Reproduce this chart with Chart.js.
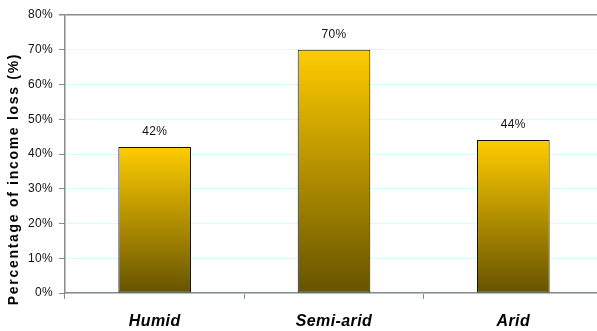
<!DOCTYPE html>
<html>
<head>
<meta charset="utf-8">
<script src="https://cdn.jsdelivr.net/npm/chart.js@4/dist/chart.umd.min.js"></script>
<style>
  html, body { margin: 0; padding: 0; background: #fff; overflow: hidden; }
  #wrap { width: 603px; height: 331px; }
</style>
</head>
<body>
<div id="wrap"><canvas id="c" width="603" height="331"></canvas></div>
<script>
// Income loss by climate zone
const categories = ['Humid', 'Semi-arid', 'Arid'];
const incomeLoss = [42, 70, 44];          // percent
const yTicks = [0, 10, 20, 30, 40, 50, 60, 70, 80];
const yTitle = 'Percentage of income loss (%)';

const AXIS_GRAY = '#8a8a8a';
const GRID_CYAN = '#d8fcfc';
const FONT = '"Liberation Sans", Arial, sans-serif';

// vertical gold-to-olive fill, per bar
function barFill(ctx) {
  const chart = ctx.chart;
  if (!chart.chartArea || ctx.type !== 'data') return '#ffcc00';
  const y = chart.scales.y;
  const top = y.getPixelForValue(ctx.raw);
  const bottom = y.getPixelForValue(0);
  if (!isFinite(top) || !isFinite(bottom) || top === bottom) return '#ffcc00';
  const g = chart.ctx.createLinearGradient(0, top, 0, bottom);
  g.addColorStop(0, '#ffcc00');
  g.addColorStop(1, '#665300');
  return g;
}

// letter spacing for axis text, applied around the scale's own drawing
function withSpacing(fn, px, dy) {
  return function (...args) {
    const c = this.ctx;
    c.save();
    c.letterSpacing = px;
    if (dy) c.translate(0, dy);
    const r = fn.apply(this, args);
    c.restore();
    return r;
  };
}
const spacingPlugin = {
  id: 'spacing',
  afterUpdate(chart) {
    const x = chart.scales.x, y = chart.scales.y;
    if (x && !x._spaced) {
      x.drawLabels = withSpacing(x.drawLabels, '0.4px', 1);
      x._spaced = true;
    }
    if (y && !y._spaced) {
      y.drawLabels = withSpacing(y.drawLabels, '0.3px', 0);
      y.drawTitle = withSpacing(y.drawTitle, '1.7px', 25);
      y._spaced = true;
    }
  }
};

// value labels above each bar
const valueLabels = {
  id: 'valueLabels',
  afterDatasetsDraw(chart) {
    const c = chart.ctx;
    const meta = chart.getDatasetMeta(0);
    c.save();
    c.font = '12px ' + FONT;
    c.letterSpacing = '0.3px';
    c.fillStyle = '#111';
    c.textAlign = 'center';
    c.textBaseline = 'bottom';
    meta.data.forEach((bar, i) => {
      c.fillText(incomeLoss[i] + '%', bar.x, bar.y - 9);
    });
    c.restore();
  }
};

new Chart(document.getElementById('c'), {
  type: 'bar',
  data: {
    labels: categories,
    datasets: [{
      data: incomeLoss,
      backgroundColor: barFill,
      borderColor: '#111',
      borderWidth: 1,
      borderSkipped: false,
      categoryPercentage: 1,
      barPercentage: 0.405
    }]
  },
  options: {
    responsive: false,
    animation: false,
    events: [],
    layout: { padding: { top: 15, right: 0, left: 0, bottom: 0 } },
    plugins: { legend: { display: false }, tooltip: { enabled: false } },
    scales: {
      x: {
        afterFit(s) { s.height = 38; },
        border: { color: AXIS_GRAY, width: 1.5 },
        grid: {
          offset: true,
          drawOnChartArea: false,
          drawTicks: true,
          tickLength: 6,
          tickColor: AXIS_GRAY,
          tickWidth: 1
        },
        ticks: {
          color: '#000',
          padding: 12,
          font: { family: FONT, size: 16, weight: 'bold', style: 'italic' }
        }
      },
      y: {
        min: 0,
        max: 80,
        afterFit(s) { s.width = 65; },
        afterBuildTicks(s) { s.ticks = yTicks.map(v => ({ value: v })); },
        border: { color: AXIS_GRAY, width: 1.5 },
        grid: {
          color: ctx => (ctx.tick && ctx.tick.value === 80) ? AXIS_GRAY : GRID_CYAN,
          lineWidth: ctx => (ctx.tick && ctx.tick.value === 80) ? 1.5 : 1,
          tickColor: AXIS_GRAY,
          tickLength: 6,
          drawTicks: true
        },
        ticks: {
          color: '#111',
          padding: 6,
          font: { family: FONT, size: 12 },
          callback: v => v + '%'
        },
        title: {
          display: true,
          text: yTitle,
          color: '#000',
          padding: { top: 6, bottom: 0 },
          font: { family: FONT, size: 14, weight: 'bold' }
        }
      }
    }
  },
  plugins: [spacingPlugin, valueLabels]
});
</script>
</body>
</html>
